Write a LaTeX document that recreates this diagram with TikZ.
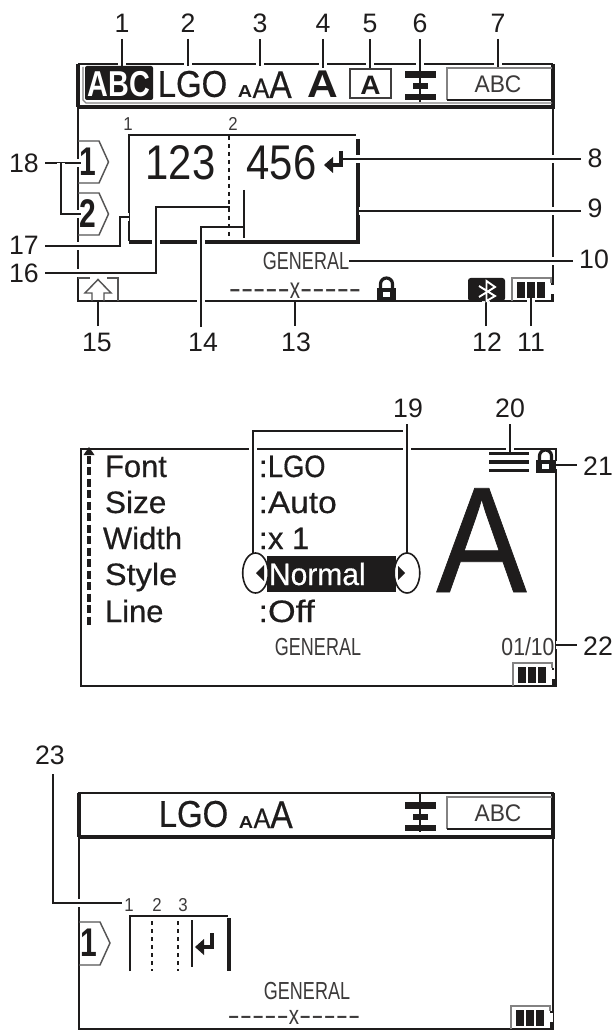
\documentclass[tikz,border=0pt]{standalone}
\usepackage{graphicx}
\usepackage{fontspec}
\setmainfont{Liberation Sans}
\newfontfamily\lcdfont[FakeBold=0.5]{Liberation Sans}
\definecolor{ink}{HTML}{1E1C1C}
\definecolor{lcd}{HTML}{3C3A3A}
\newcommand{\fsz}[1]{\fontsize{#1}{#1}\selectfont}
\newcommand{\sx}[2]{\scalebox{#1}[1]{#2}}
\newcommand{\dashes}[1]{\sx{#1}{-{}-{}-{}-{}-}}
\tikzset{
  every node/.style={inner sep=0pt,outer sep=0pt,text=ink},
  numlabel/.style={font=\fsz{20}\selectfont,outer sep=5pt},
  leader/.style={draw=ink,line width=1.5pt,line join=miter,
    preaction={draw=white,line width=5.6pt}},
  frame/.style={draw=ink,line width=1.5pt},
  heavy/.style={draw=ink,line width=3pt},
  faint/.style={draw=ink!55,line width=.9pt},
  tag/.style={draw=ink!75,line width=1.1pt},
  menu/.style={anchor=base west,font=\lcdfont\fsz{23.2}\selectfont},
  small/.style={text=lcd},
}
\newcommand{\batt}[2]{\begin{scope}[shift={(#1,#2)}]
  \draw[faint] (-1,0) -- (-1,-23) -- (38,-23) -- (38,-18);
  \fill[ink] (4,-19) rectangle (12,-3);
  \fill[ink] (14,-19) rectangle (22,-3);
  \fill[ink] (24,-19) rectangle (32,-3);
  \fill[ink] (38,-7) rectangle (41,0);
  \fill[white] (39,-16) rectangle (41,-7);
  \fill[ink] (38,-18) rectangle (40,-16);
\end{scope}}
\newcommand{\alignicon}[2]{\begin{scope}[shift={(#1,#2)}]
  \fill[ink] (-15,-4) rectangle (16,3);
  \fill[ink] (-7,8) rectangle (8,14);
  \fill[ink] (-15,19) rectangle (16,25);
\end{scope}}
\newcommand{\lockicon}[2]{\begin{scope}[shift={(#1,#2)}]
  \fill[ink] (0,0) rectangle (19,-13);
  \draw[ink,line width=2.4pt] (3.5,-12) -- (3.5,-17) arc[start angle=180,end angle=0,x radius=4.5pt,y radius=4.5pt] -- (15.5,-12);
  \fill[white] (6,-4) rectangle (13,-9);
\end{scope}}
\newcommand{\retarrow}[2]{\begin{scope}[shift={(#1,#2)}]
  \draw[ink,line width=2.4pt] (0,-14) -- (0,0) -- (-10,0);
  \fill[ink] (-17,0) -- (-8,-8) -- (-8,8) -- cycle;
\end{scope}}
\newcommand{\threeA}[3]{%
  \node[anchor=base,font=\bfseries\fsz{13}\selectfont] (#1a) at (#2+8,#3) {\sx{1.15}{A}};
  \node[anchor=base,font=\lcdfont\fsz{21}\selectfont] (#1b) at (#2+24,#3) {\sx{.9}{A}};
  \node[anchor=base,font=\lcdfont\fsz{29}\selectfont] (#1c) at (#2+43.5,#3) {\sx{.87}{A}};}
\begin{document}
\begin{tikzpicture}[x=.75pt,y=-.75pt]
\useasboundingbox (0,0) rectangle (615,1030);
\fill[white] (0,0) rectangle (615,1030);

% ---------- screen 1 frame
\draw[frame] (78,64) -- (553,64) (78,64) -- (78,301) -- (553,301) -- (553,280);
\draw[frame] (553,107) -- (553,280);
\draw[heavy] (78,64) -- (78,107) (553,64) -- (553,107);
\draw[draw=ink,line width=3.4pt] (76.5,107) -- (554.5,107);
\draw[faint] (83,67) -- (83,100) -- (86,103) -- (552,103);
% text frame
\draw[draw=ink,line width=1.2pt] (129,241) -- (129,135) -- (356,135);
\draw[heavy] (358,139) -- (358,242) -- (129,242);

% ---------- screen 2 frame
\draw[frame] (81,449) rectangle (556,686);
% ---------- screen 3 frame
\draw[frame] (79,793) -- (553,793) -- (553,1029) -- (79,1029) -- cycle;
\draw[heavy] (79,793) -- (79,837) (553,793) -- (553,837);
\draw[draw=ink,line width=3.4pt] (78,837) -- (555,837);

% ---------- labels
\node[numlabel] (l1) at (122,23) {1};
\node[numlabel] (l2) at (188,23) {2};
\node[numlabel] (l3) at (260,23) {3};
\node[numlabel] (l4) at (323,23) {4};
\node[numlabel] (l5) at (370,23) {5};
\node[numlabel] (l6) at (420,23) {6};
\node[numlabel] (l7) at (498,23) {7};
\node[numlabel] (l8) at (595,158) {8};
\node[numlabel] (l9) at (595,208) {9};
\node[numlabel] (l10) at (594,259) {10};
\node[numlabel] (l11) at (531,342) {11};
\node[numlabel] (l12) at (487,342) {12};
\node[numlabel] (l13) at (296,342) {13};
\node[numlabel] (l14) at (203,342) {14};
\node[numlabel] (l15) at (97,342) {15};
\node[numlabel] (l16) at (24,273) {16};
\node[numlabel] (l17) at (24,245) {17};
\node[numlabel] (l18) at (24,163) {18};
\node[numlabel] (l19) at (408,408) {19};
\node[numlabel] (l20) at (510,408) {20};
\node[numlabel] (l21) at (598,466) {21};
\node[numlabel] (l22) at (598,646) {22};
\node[numlabel] (l23) at (50,755) {23};

% ---------- named ends
\coordinate (e1) at (122,66);
\coordinate (e2) at (188,66);
\coordinate (e3) at (260,66);
\coordinate (e4) at (323,68);
\coordinate (e5) at (370,69);
\coordinate (e6) at (420,102);
\coordinate (e7) at (498,68);
\coordinate (e8) at (341,159);
\coordinate (e9) at (359,211);
\coordinate (e10) at (349,261);
\coordinate (e11) at (531,298);
\coordinate (e12) at (486,298);
\coordinate (e13) at (295,302);
\coordinate (e14) at (244,227);
\coordinate (e15) at (98,302);
\coordinate (e16) at (230,207);
\coordinate (e17) at (129,217);
\coordinate (e18a) at (81,163);
\coordinate (e18b) at (81,214);
\coordinate (e19a) at (253,553);
\coordinate (e19b) at (407,553);
\coordinate (e20) at (510,452);
\coordinate (e21) at (556,465);
\coordinate (e22) at (556,645);
\coordinate (e23) at (122,903);

% ---------- leaders
\draw[leader] (l1.south) -- (l1.south |- e1);
\draw[leader] (l2.south) -- (l2.south |- e2);
\draw[leader] (l3.south) -- (l3.south |- e3);
\draw[leader] (l4.south) -- (l4.south |- e4);
\draw[leader] (l5.south) -- (l5.south |- e5);
\draw[leader] (l6.south) -- (l6.south |- e6);
\draw[leader] (l7.south) -- (l7.south |- e7);
\draw[leader] (l8.west |- e8) -- (e8);
\draw[leader] (l9.west |- e9) -- (e9);
\draw[leader] (l10.west |- e10) -- (e10);
\draw[leader] (l11.north) -- (l11.north |- e11);
\draw[leader] (l12.north -| e12) -- (e12);
\draw[leader] (l13.north -| e13) -- (e13);
\draw[leader] (201,327) -- (201,227) -- (e14);
\draw[leader] (l15.north -| e15) -- (e15);
\draw[leader] (l16.east |- 0,273) -- (156,273) -- (156,207) -- (e16);
\draw[leader] (l17.east |- 0,246) -- (120,246) -- (120,217) -- (e17);
\draw[leader] (l18.east) -- (e18a);
\draw[leader] (61,163) -- (61,214) -- (e18b);
\draw[leader] (e19a) -- (253,431) -- (407,431);
\draw[leader] (l19.south -| e19b) -- (e19b);
\draw[leader] (l20.south) -- (l20.south |- e20);
\draw[leader] (l21.west |- e21) -- (e21);
\draw[leader] (l22.west |- e22) -- (e22);
\draw[leader] (53,774) -- (53,903) -- (e23);

% ---------- screen 1 header
\fill[ink,rounded corners=1.5pt] (85,66) rectangle (153,100);
\node[text=white,font=\bfseries\fsz{27}\selectfont] (abc) at (119,84) {\sx{.8}{ABC}};
\node[font=\lcdfont\fsz{28}\selectfont] (lgo) at (192.5,84) {\sx{.88}{LGO}};
\threeA{taa}{237}{98}
\node[anchor=base,font=\bfseries\fsz{29}\selectfont] (boldA) at (323,98) {\sx{1.1}{A}};
\draw[draw=ink!85,line width=1.3pt] (350,69) rectangle (391,98);
\node[anchor=base,font=\bfseries\fsz{20}\selectfont] (boxA) at (370.5,95) {\sx{1.05}{A}};
\alignicon{420}{75}
\draw[faint] (447,100) -- (447,68) -- (552,68);
\draw[draw=ink,line width=1pt] (447,100) -- (552,100);
\node[small,font=\fsz{18}\selectfont] (abc2) at (498,84) {\sx{.95}{ABC}};

% tags
\draw[tag] (78,141) -- (99,141) -- (108.5,162) -- (99,183) -- (78,183);
\node[font=\bfseries\fsz{30}\selectfont] (t1) at (88,162) {\sx{.75}{1}};
\draw[tag] (78,193) -- (99,193) -- (108.5,214) -- (99,235) -- (78,235);
\node[font=\bfseries\fsz{30}\selectfont] (t2) at (88,214) {\sx{.75}{2}};

% ruler and text
\node[small,font=\fsz{14}\selectfont] (r1) at (128,124) {\sx{.9}{1}};
\node[small,font=\fsz{14}\selectfont] (r2) at (233,124) {\sx{.9}{2}};
\draw[ink,line width=1.5pt,dash pattern=on 3pt off 3pt] (229,136) -- (229,237);
\draw[ink,line width=1.2pt] (244,190) -- (244,238);
\node[font=\fsz{36.5}\selectfont] (n1) at (180.5,162.5) {\sx{.86}{123}};
\node[font=\fsz{36.5}\selectfont] (n2) at (281.5,162.5) {\sx{.86}{456}};
\retarrow{341}{165}

% bottom row
\draw[tag] (78,278) -- (90,278) (107,278) -- (118,278) -- (118,301);
\draw[tag] (92,301) -- (92,293) -- (85,293) -- (98,279.5) -- (111,293) -- (104,293) -- (104,301);
\node[small,font=\fsz{18.5}\selectfont] (g1) at (306,261) {\sx{.73}{GENERAL}};
\node[small,anchor=base,font=\fsz{22}\selectfont] (d1) at (295,298) {\dashes{1.25}\sx{.7}{x}\dashes{1.25}};
\lockicon{377}{301}
\fill[ink,rounded corners=2pt] (468,301) -- (468,278) -- (505,278) -- (505,301) -- cycle;
\draw[white,line width=1.4pt] (479,286) -- (495,296) -- (486.5,301) -- (486.5,281) -- (495,287) -- (479,297);
\batt{513}{301}

% ---------- screen 2
\fill[ink] (89,447) -- (94.5,455) -- (83.5,455) -- cycle;
\draw[ink,line width=2.6pt,dash pattern=on 6pt off 2.6pt] (89,456) -- (89,626);
\node[menu] (m1) at (105,477) {Font};
\node[menu] (m2) at (105,513) {\sx{1.02}{Size}};
\node[menu] (m3) at (103,549) {Width};
\node[menu] (m4) at (105,585) {\sx{1.05}{Style}};
\node[menu] (m5) at (105,622) {Line};
\node[menu] (c1) at (259,477) {:};
\node[menu] (c2) at (259,513) {:};
\node[menu] (c3) at (259,549) {:};
\node[menu] (c5) at (259,622) {:};
\node[menu] (v1) at (268,477) {\sx{.88}{LGO}};
\node[menu] (v2) at (268,513) {\sx{1.08}{Auto}};
\node[menu] (v3) at (268,549) {x 1};
\fill[ink] (267,556) rectangle (396,592);
\node[menu,text=white] (v4) at (269,585) {\sx{.97}{Normal}};
\node[menu] (v5) at (268,622) {\sx{1.15}{Off}};
\draw[draw=ink,line width=1.2pt,fill=white] (255.5,573) ellipse [x radius=9.6pt,y radius=15pt];
\draw[draw=ink,line width=1.2pt,fill=white] (407,573) ellipse [x radius=9.6pt,y radius=15pt];
\fill[ink] (256,573) -- (264,565) -- (264,581) -- cycle;
\fill[ink] (405,573) -- (398,566) -- (398,580) -- cycle;
\node[anchor=base,font=\lcdfont\fsz{113}\selectfont] (bigA) at (481.5,592) {\sx{.9}{A}};
\fill[ink] (489,451.5) rectangle (529,455);
\fill[ink] (489,460) rectangle (529,463.5);
\fill[ink] (489,468.5) rectangle (529,472);
\lockicon{536}{473}
\node[small,font=\fsz{18.5}\selectfont] (g2) at (318,647) {\sx{.73}{GENERAL}};
\node[small,font=\fsz{18.5}\selectfont] (pg) at (528,647) {\sx{.86}{01/10}};
\batt{514}{686}

% ---------- screen 3
\node[font=\lcdfont\fsz{28}\selectfont] (lgo3) at (193.5,814) {\sx{.88}{LGO}};
\threeA{tbb}{238}{828}
\draw[draw=ink,line width=1.5pt] (420,793) -- (420,832);
\alignicon{420}{806}
\draw[faint] (447,829) -- (447,797) -- (552,797);
\draw[draw=ink,line width=1pt] (447,829) -- (552,829);
\node[small,font=\fsz{18}\selectfont] (abc3) at (498,813) {\sx{.95}{ABC}};
\node[small,font=\fsz{14}\selectfont] (q1) at (129,905) {\sx{.9}{1}};
\node[small,font=\fsz{14}\selectfont] (q2) at (157,905) {\sx{.9}{2}};
\node[small,font=\fsz{14}\selectfont] (q3) at (183,905) {\sx{.9}{3}};
\draw[draw=ink,line width=1.2pt] (130,971) -- (130,916) -- (228,916);
\draw[draw=ink,line width=2.6pt] (229,918) -- (229,971);
\draw[ink,line width=1.3pt,dash pattern=on 3pt off 3pt] (152,921) -- (152,971);
\draw[ink,line width=1.3pt,dash pattern=on 3pt off 3pt] (178,921) -- (178,971);
\draw[ink,line width=1.2pt] (192,920) -- (192,967);
\retarrow{212}{947}
\draw[tag] (79,922) -- (100,922) -- (110,943) -- (100,965) -- (79,965);
\node[font=\bfseries\fsz{30}\selectfont] (t3) at (89,943) {\sx{.75}{1}};
\node[small,font=\fsz{18.5}\selectfont] (g3) at (307,991) {\sx{.73}{GENERAL}};
\node[small,anchor=base,font=\fsz{20}\selectfont] (d3) at (294,1024.5) {\dashes{1.38}\sx{.77}{x}\dashes{1.38}};
\batt{512}{1029}
\end{tikzpicture}
\end{document}
